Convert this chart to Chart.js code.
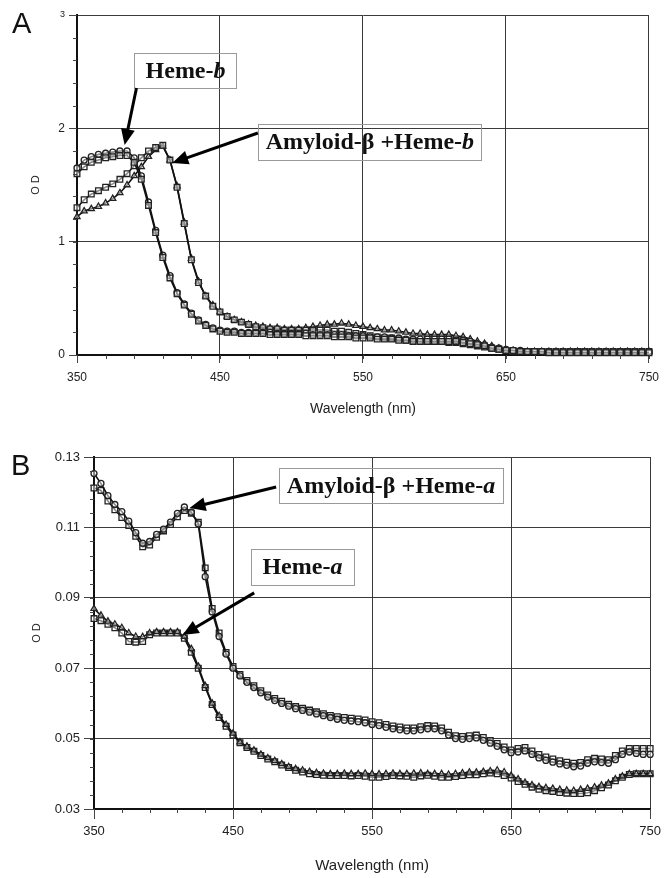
<!DOCTYPE html>
<html><head><meta charset="utf-8">
<script src="https://cdn.jsdelivr.net/npm/chart.js@4.4.0/dist/chart.umd.min.js"></script>
<style>
html,body{margin:0;padding:0;background:#fff;}
#wrap{position:relative;width:666px;height:878px;overflow:hidden;}
canvas{position:absolute;left:0;}
#cA{top:0;} #cB{top:430px;}
</style></head><body>
<div id="wrap"><canvas id="cA" width="666" height="430"></canvas><canvas id="cB" width="666" height="448"></canvas></div>
<script>
// ---------- DATA ----------
const wavelengths = [
 350,355,360,365,370,375,380,385,390,395,
 400,405,410,415,420,425,430,435,440,445,
 450,455,460,465,470,475,480,485,490,495,
 500,505,510,515,520,525,530,535,540,545,
 550,555,560,565,570,575,580,585,590,595,
 600,605,610,615,620,625,630,635,640,645,
 650,655,660,665,670,675,680,685,690,695,
 700,705,710,715,720,725,730,735,740,745,
 750];

// Panel A (Heme-b)
const hemeB_sq = [
 1.60,1.66,1.70,1.72,1.74,1.75,1.76,1.76,1.70,1.55,
 1.32,1.08,0.86,0.68,0.54,0.44,0.36,0.30,0.26,0.23,
 0.21,0.20,0.20,0.19,0.19,0.19,0.19,0.18,0.18,0.18,
 0.18,0.18,0.17,0.17,0.17,0.17,0.16,0.16,0.16,0.15,
 0.15,0.15,0.14,0.14,0.14,0.13,0.13,0.12,0.12,0.12,
 0.12,0.12,0.12,0.12,0.11,0.10,0.09,0.08,0.06,0.05,
 0.04,0.04,0.03,0.03,0.03,0.03,0.02,0.02,0.02,0.02,
 0.02,0.02,0.02,0.02,0.02,0.02,0.02,0.02,0.02,0.02,
 0.02];
const hemeB_ci = [
 1.65,1.72,1.75,1.77,1.78,1.79,1.80,1.80,1.74,1.58,
 1.35,1.10,0.88,0.70,0.55,0.45,0.37,0.31,0.27,0.24,
 0.22,0.21,0.21,0.20,0.20,0.20,0.20,0.20,0.19,0.19,
 0.19,0.19,0.19,0.18,0.18,0.18,0.18,0.18,0.17,0.17,
 0.17,0.16,0.16,0.16,0.15,0.15,0.14,0.14,0.14,0.14,
 0.14,0.14,0.14,0.13,0.13,0.12,0.10,0.09,0.07,0.06,
 0.05,0.04,0.04,0.03,0.03,0.03,0.03,0.03,0.03,0.03,
 0.03,0.03,0.03,0.03,0.03,0.03,0.03,0.03,0.03,0.03,
 0.03];
const amyB_sq = [
 1.30,1.37,1.42,1.45,1.48,1.51,1.55,1.60,1.67,1.74,
 1.80,1.83,1.85,1.72,1.48,1.16,0.84,0.64,0.52,0.43,
 0.38,0.34,0.31,0.29,0.27,0.25,0.24,0.23,0.23,0.22,
 0.22,0.22,0.22,0.22,0.22,0.22,0.21,0.21,0.20,0.19,
 0.18,0.17,0.16,0.15,0.15,0.14,0.13,0.13,0.12,0.12,
 0.12,0.12,0.11,0.11,0.10,0.09,0.08,0.07,0.06,0.05,
 0.04,0.03,0.03,0.03,0.03,0.03,0.03,0.03,0.03,0.03,
 0.03,0.03,0.03,0.03,0.03,0.03,0.03,0.03,0.03,0.03,
 0.03];
const amyB_tri = [
 1.22,1.27,1.29,1.31,1.34,1.38,1.43,1.50,1.58,1.66,
 1.75,1.81,1.84,1.72,1.49,1.17,0.85,0.65,0.52,0.44,
 0.38,0.34,0.31,0.29,0.27,0.26,0.25,0.24,0.24,0.23,
 0.23,0.23,0.24,0.25,0.26,0.27,0.27,0.28,0.27,0.26,
 0.25,0.24,0.23,0.22,0.22,0.21,0.20,0.19,0.19,0.18,
 0.18,0.18,0.18,0.17,0.16,0.14,0.12,0.10,0.08,0.06,
 0.04,0.04,0.03,0.03,0.03,0.03,0.03,0.03,0.03,0.03,
 0.03,0.03,0.03,0.03,0.03,0.03,0.03,0.03,0.03,0.03,
 0.03];

// Panel B (Heme-a)
const amyA_ci = [
 0.1253,0.1225,0.1190,0.1165,0.1145,0.1118,0.1085,0.1055,0.1060,0.1080,
 0.1095,0.1115,0.1140,0.1158,0.1143,0.1110,0.0960,0.0860,0.0790,0.0740,
 0.0700,0.0678,0.0660,0.0645,0.0630,0.0618,0.0608,0.0600,0.0592,0.0585,
 0.0580,0.0575,0.0570,0.0565,0.0560,0.0555,0.0552,0.0550,0.0548,0.0545,
 0.0540,0.0537,0.0532,0.0528,0.0525,0.0522,0.0522,0.0525,0.0528,0.0528,
 0.0522,0.0510,0.0500,0.0498,0.0500,0.0502,0.0495,0.0487,0.0478,0.0468,
 0.0460,0.0462,0.0465,0.0455,0.0445,0.0438,0.0433,0.0428,0.0424,0.0420,
 0.0422,0.0430,0.0434,0.0432,0.0430,0.0440,0.0455,0.0462,0.0458,0.0455,
 0.0455];
const amyA_sq = [
 0.1212,0.1205,0.1175,0.1150,0.1128,0.1105,0.1075,0.1045,0.1050,0.1072,
 0.1090,0.1108,0.1130,0.1148,0.1140,0.1115,0.0985,0.0870,0.0800,0.0745,
 0.0705,0.0682,0.0665,0.0650,0.0636,0.0624,0.0614,0.0606,0.0598,0.0591,
 0.0586,0.0581,0.0576,0.0571,0.0566,0.0562,0.0560,0.0558,0.0556,0.0553,
 0.0548,0.0545,0.0540,0.0536,0.0533,0.0530,0.0530,0.0534,0.0537,0.0536,
 0.0530,0.0518,0.0508,0.0506,0.0508,0.0510,0.0503,0.0495,0.0486,0.0476,
 0.0468,0.0472,0.0475,0.0465,0.0455,0.0448,0.0442,0.0437,0.0433,0.0430,
 0.0432,0.0440,0.0444,0.0442,0.0440,0.0452,0.0465,0.0472,0.0472,0.0472,
 0.0472];
const hemeA_tri = [
 0.0869,0.0850,0.0833,0.0825,0.0815,0.0800,0.0790,0.0789,0.0800,0.0803,
 0.0803,0.0803,0.0803,0.0790,0.0755,0.0705,0.0650,0.0600,0.0565,0.0540,
 0.0515,0.0490,0.0478,0.0467,0.0455,0.0445,0.0437,0.0428,0.0420,0.0414,
 0.0410,0.0406,0.0403,0.0401,0.0400,0.0400,0.0401,0.0400,0.0400,0.0401,
 0.0400,0.0399,0.0400,0.0401,0.0400,0.0400,0.0401,0.0402,0.0400,0.0400,
 0.0400,0.0398,0.0400,0.0402,0.0404,0.0404,0.0406,0.0408,0.0410,0.0405,
 0.0395,0.0385,0.0375,0.0368,0.0363,0.0360,0.0358,0.0355,0.0353,0.0352,
 0.0355,0.0358,0.0362,0.0367,0.0373,0.0385,0.0393,0.0400,0.0400,0.0400,
 0.0400];
const hemeA_sq = [
 0.0841,0.0835,0.0825,0.0815,0.0800,0.0776,0.0774,0.0776,0.0795,0.0800,
 0.0800,0.0800,0.0800,0.0785,0.0745,0.0700,0.0645,0.0597,0.0560,0.0535,
 0.0510,0.0488,0.0475,0.0464,0.0452,0.0442,0.0434,0.0425,0.0418,0.0410,
 0.0405,0.0400,0.0398,0.0396,0.0395,0.0395,0.0395,0.0394,0.0395,0.0393,
 0.0390,0.0390,0.0392,0.0395,0.0394,0.0393,0.0390,0.0394,0.0396,0.0393,
 0.0390,0.0390,0.0392,0.0395,0.0397,0.0397,0.0400,0.0402,0.0400,0.0395,
 0.0388,0.0378,0.0370,0.0362,0.0356,0.0352,0.0350,0.0347,0.0345,0.0344,
 0.0344,0.0346,0.0352,0.0360,0.0368,0.0380,0.0390,0.0398,0.0400,0.0400,
 0.0400];

const xTicks = [350, 450, 550, 650, 750];
const yTicksA = [0, 1, 2, 3];
const yTicksB = [0.03, 0.05, 0.07, 0.09, 0.11, 0.13];

// ---------- PLUGINS ----------
const SANS = '"Liberation Sans", Arial, Helvetica, sans-serif';
const SERIF = '"Liberation Serif", "Times New Roman", serif';

const decoPlugin = {
  id: 'deco',
  afterDatasetsDraw(chart, args, o) {
    const ctx = chart.ctx, xs = chart.scales.x, ys = chart.scales.y, ca = chart.chartArea;
    const P = (x, y) => [xs.getPixelForValue(x), ys.getPixelForValue(y)];
    ctx.save();
    // minor ticks
    ctx.strokeStyle = '#444'; ctx.lineWidth = 1;
    ctx.beginPath();
    for (let v = xs.min; v <= xs.max + 1e-9; v += o.xStep) {
      const px = Math.round(xs.getPixelForValue(v)) + 0.5;
      ctx.moveTo(px, ca.bottom); ctx.lineTo(px, ca.bottom + o.minorLen);
    }
    for (let v = ys.min; v <= ys.max + 1e-9; v += o.yStep) {
      const py = Math.round(ys.getPixelForValue(v)) + 0.5;
      ctx.moveTo(ca.left - o.minorLen, py); ctx.lineTo(ca.left, py);
    }
    ctx.stroke();
    // text boxes
    o.boxes.forEach(b => {
      const [l, t] = P(b.x0, b.y1), [r, bt] = P(b.x1, b.y0);
      ctx.strokeStyle = '#9a9a9a'; ctx.lineWidth = 1;
      ctx.strokeRect(Math.round(l) + 0.5, Math.round(t) + 0.5, Math.round(r - l), Math.round(bt - t));
      const f1 = 'bold ' + o.boxFont + 'px ' + SERIF;
      const f2 = 'italic bold ' + o.boxFont + 'px ' + SERIF;
      ctx.font = f1; const w1 = ctx.measureText(b.text).width;
      ctx.font = f2; const w2 = ctx.measureText(b.ital).width;
      const x = (l + r) / 2 - (w1 + w2) / 2, y = (t + bt) / 2 + 1;
      ctx.textBaseline = 'middle'; ctx.textAlign = 'left'; ctx.fillStyle = '#111';
      ctx.font = f1; ctx.fillText(b.text, x, y);
      ctx.font = f2; ctx.fillText(b.ital, x + w1, y);
    });
    // arrows
    o.arrows.forEach(a => {
      const [x1, y1] = P(a.from[0], a.from[1]), [x2, y2] = P(a.to[0], a.to[1]);
      const ang = Math.atan2(y2 - y1, x2 - x1), hl = 16, hw = 7;
      const bx = x2 - hl * Math.cos(ang), by = y2 - hl * Math.sin(ang);
      ctx.strokeStyle = '#000'; ctx.lineWidth = 3; ctx.lineCap = 'butt';
      ctx.beginPath(); ctx.moveTo(x1, y1); ctx.lineTo(bx + 2 * Math.cos(ang), by + 2 * Math.sin(ang)); ctx.stroke();
      ctx.fillStyle = '#000';
      ctx.beginPath(); ctx.moveTo(x2, y2);
      ctx.lineTo(bx + hw * Math.sin(ang), by - hw * Math.cos(ang));
      ctx.lineTo(bx - hw * Math.sin(ang), by + hw * Math.cos(ang));
      ctx.closePath(); ctx.fill();
    });
    // panel letter
    ctx.font = '29px ' + SANS; ctx.fillStyle = '#111'; ctx.textBaseline = 'alphabetic'; ctx.textAlign = 'left';
    ctx.fillText(o.letter, o.letterX, o.letterY);
    ctx.restore();
  }
};

function series(vals) { return vals.map((v, i) => ({x: wavelengths[i], y: v})); }
function ds(vals, style) {
  return Object.assign({
    data: series(vals), borderColor: '#111', borderWidth: 1.6, tension: 0,
    pointBorderColor: '#222', pointBorderWidth: 1.3, pointBackgroundColor: 'rgba(255,255,255,0.5)',
    clip: false
  }, style);
}

function makeChart(id, p) {
  return new Chart(document.getElementById(id), {
    type: 'line',
    data: { datasets: p.datasets },
    options: {
      responsive: false, animation: false, devicePixelRatio: 1,
      layout: { padding: p.padding },
      plugins: { legend: { display: false }, tooltip: { enabled: false }, deco: p.deco },
      scales: {
        x: {
          type: 'linear', min: 350, max: 750,
          afterBuildTicks: s => { s.ticks = xTicks.map(v => ({value: v})); },
          afterFit: s => { s.height = p.xHeight; },
          grid: { color: '#3a3a3a', lineWidth: 1, tickLength: p.tickLen, tickColor: '#444' },
          border: { color: '#111', width: 2 },
          ticks: { color: '#222', padding: p.xTickPad, maxRotation: 0, font: { family: SANS, size: p.tickFont } },
          title: { display: true, text: 'Wavelength (nm)', color: '#222', font: { family: SANS, size: p.xTitleFont }, padding: { top: 0, bottom: p.xTitlePad } }
        },
        y: {
          type: 'linear', min: p.yMin, max: p.yMax,
          afterBuildTicks: s => { s.ticks = p.yTicks.map(v => ({value: v})); },
          afterFit: s => { s.width = p.yWidth; },
          grid: { color: '#3a3a3a', lineWidth: 1, tickLength: p.tickLen, tickColor: '#444' },
          border: { color: '#111', width: 2 },
          ticks: { color: '#222', padding: p.yTickPad, callback: p.yFmt,
                   font: c => ({ family: SANS, size: (p.smallTop && c.tick && c.tick.value === p.yMax) ? 9 : p.tickFont }) },
          title: { display: true, text: 'O D', color: '#222', font: { family: SANS, size: 11 }, padding: { top: p.yTitlePad, bottom: 0 } }
        }
      }
    },
    plugins: [decoPlugin]
  });
}

makeChart('cA', {
  datasets: [
    ds(hemeB_sq, { pointStyle: 'rect', pointRadius: 4 }),
    ds(hemeB_ci, { pointStyle: 'circle', pointRadius: 3 }),
    ds(amyB_sq, { pointStyle: 'rect', pointRadius: 4 }),
    ds(amyB_tri, { pointStyle: 'triangle', pointRadius: 3.5 })
  ],
  padding: { left: 0, right: 12, top: 15, bottom: 0 },
  yWidth: 77, xHeight: 75, tickLen: 8, tickFont: 12, xTickPad: 7, yTickPad: 4,
  xTitleFont: 14, xTitlePad: 12, yTitlePad: 29, smallTop: true,
  yMin: 0, yMax: 3, yTicks: yTicksA, yFmt: v => String(v),
  deco: {
    xStep: 20, yStep: 0.2, minorLen: 4, boxFont: 24,
    letter: 'A', letterX: 12, letterY: 33,
    boxes: [
      { x0: 390.2, x1: 461.6, y0: 2.356, y1: 2.665, text: 'Heme-', ital: 'b' },
      { x0: 476.9, x1: 632.8, y0: 1.721, y1: 2.038, text: 'Amyloid-\u03B2 +Heme-', ital: 'b' }
    ],
    arrows: [
      { from: [391.6, 2.356], to: [383.3, 1.853] },
      { from: [476.5, 1.959], to: [416.6, 1.694] }
    ]
  }
});

makeChart('cB', {
  datasets: [
    ds(amyA_ci, { pointStyle: 'circle', pointRadius: 3 }),
    ds(amyA_sq, { pointStyle: 'rect', pointRadius: 4 }),
    ds(hemeA_tri, { pointStyle: 'triangle', pointRadius: 3.5 }),
    ds(hemeA_sq, { pointStyle: 'rect', pointRadius: 4 })
  ],
  padding: { left: 0, right: 13, top: 27, bottom: 0 },
  yWidth: 94, xHeight: 69, tickLen: 10, tickFont: 13, xTickPad: 5, yTickPad: 4,
  xTitleFont: 15, xTitlePad: 3, yTitlePad: 30, smallTop: false,
  yMin: 0.03, yMax: 0.13, yTicks: yTicksB, yFmt: v => v.toFixed(2),
  deco: {
    xStep: 20, yStep: 0.004, minorLen: 4, boxFont: 24,
    letter: 'B', letterX: 11, letterY: 45,
    boxes: [
      { x0: 483.1, x1: 644.1, y0: 0.1169, y1: 0.1269, text: 'Amyloid-\u03B2 +Heme-', ital: 'a' },
      { x0: 463.0, x1: 536.8, y0: 0.0936, y1: 0.1039, text: 'Heme-', ital: 'a' }
    ],
    arrows: [
      { from: [481.0, 0.1215], to: [418.7, 0.1155] },
      { from: [465.2, 0.0914], to: [413.7, 0.0794] }
    ]
  }
});
</script>
</body></html>
